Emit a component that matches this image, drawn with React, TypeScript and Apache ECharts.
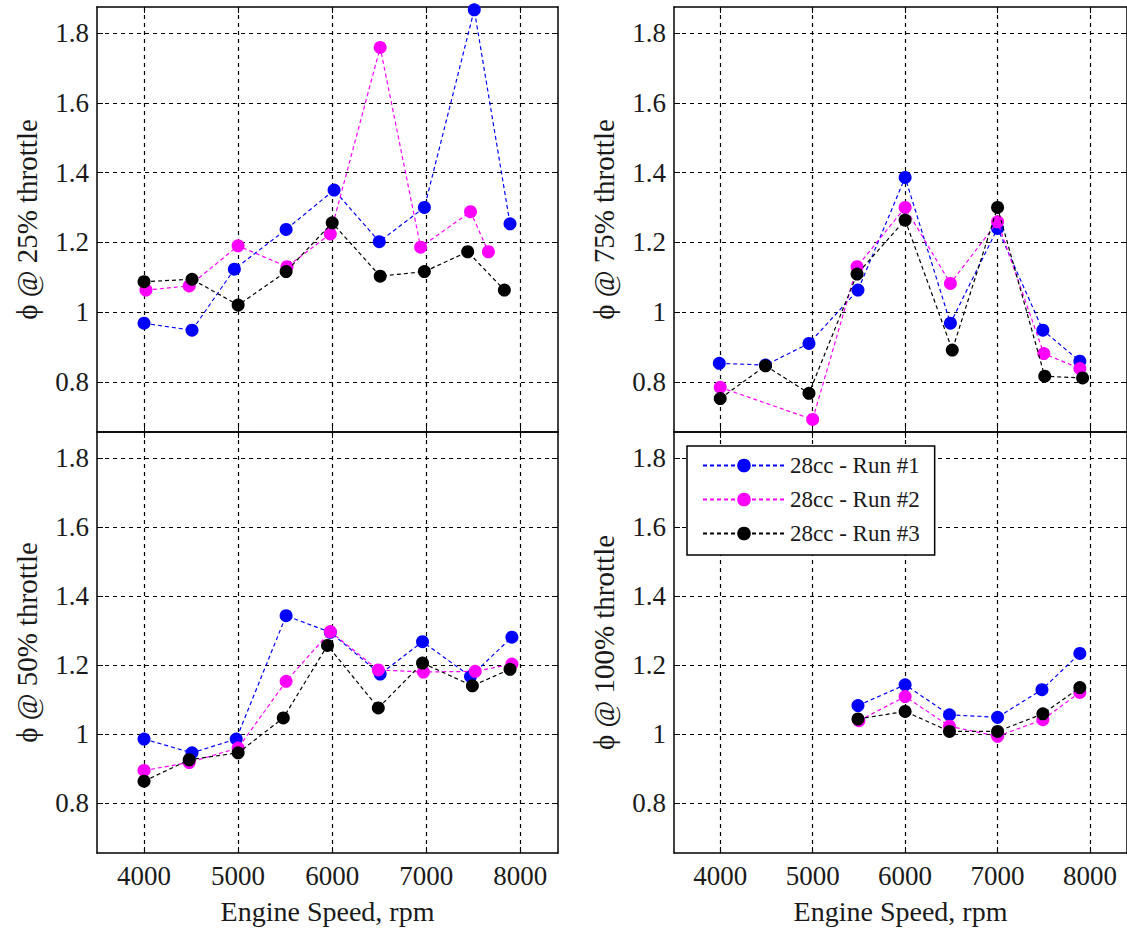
import React, { useEffect, useRef } from "react";
import * as echarts from "echarts";

// ---------- data ----------
const seriesNames = ["28cc - Run #1", "28cc - Run #2", "28cc - Run #3"];
const seriesColors = ["#0000ff", "#ff00ff", "#000000"];
const panelTitles = ["\u03d5 @ 25% throttle", "\u03d5 @ 75% throttle", "\u03d5 @ 50% throttle", "\u03d5 @ 100% throttle"];
const xTicks = [4000, 5000, 6000, 7000, 8000];
const yTicks = [0.8, 1, 1.2, 1.4, 1.6, 1.8];
const xTitle = "Engine Speed, rpm";

// 25% throttle
const rpm25Run1 = [4000, 4510, 4960, 5510, 6020, 6500, 6980, 7510, 7890];
const phi25Run1 = [0.968, 0.948, 1.123, 1.237, 1.35, 1.202, 1.3, 1.867, 1.253];
const rpm25Run2 = [4020, 4480, 5000, 5520, 5980, 6510, 6940, 7470, 7660];
const phi25Run2 = [1.063, 1.075, 1.19, 1.13, 1.224, 1.759, 1.186, 1.288, 1.173];
const rpm25Run3 = [4000, 4510, 5000, 5510, 6000, 6510, 6980, 7440, 7830];
const phi25Run3 = [1.087, 1.094, 1.02, 1.116, 1.256, 1.103, 1.116, 1.173, 1.063];

// 75% throttle
const rpm75Run1 = [3990, 4490, 4960, 5490, 6000, 6490, 7000, 7490, 7890];
const phi75Run1 = [0.853, 0.848, 0.91, 1.063, 1.386, 0.968, 1.24, 0.948, 0.859];
const rpm75Run2 = [4000, 5000, 5480, 6000, 6490, 7000, 7500, 7890];
const phi75Run2 = [0.784, 0.692, 1.13, 1.3, 1.082, 1.259, 0.881, 0.838];
const rpm75Run3 = [4000, 4490, 4960, 5480, 6000, 6510, 7000, 7510, 7920];
const phi75Run3 = [0.752, 0.846, 0.767, 1.109, 1.264, 0.891, 1.3, 0.816, 0.811];

// 50% throttle
const rpm50Run1 = [4000, 4510, 4980, 5510, 5980, 6510, 6960, 7470, 7910];
const phi50Run1 = [0.986, 0.946, 0.986, 1.343, 1.295, 1.174, 1.268, 1.167, 1.281];
const rpm50Run2 = [4000, 4480, 5000, 5510, 5980, 6490, 6970, 7520, 7910];
const phi50Run2 = [0.895, 0.918, 0.96, 1.153, 1.297, 1.186, 1.18, 1.182, 1.203];
const rpm50Run3 = [4000, 4480, 5000, 5480, 5950, 6490, 6960, 7490, 7890];
const phi50Run3 = [0.864, 0.926, 0.946, 1.047, 1.257, 1.076, 1.206, 1.14, 1.188];

// 100% throttle
const rpm100Run1 = [5490, 6000, 6480, 7000, 7480, 7890];
const phi100Run1 = [1.083, 1.143, 1.056, 1.049, 1.129, 1.234];
const rpm100Run2 = [5500, 6000, 6480, 7000, 7490, 7890];
const phi100Run2 = [1.039, 1.109, 1.023, 0.994, 1.042, 1.121];
const rpm100Run3 = [5490, 6000, 6480, 7000, 7490, 7890];
const phi100Run3 = [1.044, 1.066, 1.008, 1.008, 1.059, 1.135];

// panel order: top-left, top-right, bottom-left, bottom-right
const panelData = [
  [[rpm25Run1, phi25Run1], [rpm25Run2, phi25Run2], [rpm25Run3, phi25Run3]],
  [[rpm75Run1, phi75Run1], [rpm75Run2, phi75Run2], [rpm75Run3, phi75Run3]],
  [[rpm50Run1, phi50Run1], [rpm50Run2, phi50Run2], [rpm50Run3, phi50Run3]],
  [[rpm100Run1, phi100Run1], [rpm100Run2, phi100Run2], [rpm100Run3, phi100Run3]],
];

const FONT = "'Liberation Serif', 'DejaVu Serif', serif";
const TEXT = "#1a1a1a";

export default function App() {
  const ref = useRef<HTMLDivElement>(null);

  useEffect(() => {
    if (!ref.current) return;
    const chart = echarts.init(ref.current, undefined, { renderer: "svg" });

    const grids = [
      { left: 97, top: 7, width: 461, height: 425 },
      { left: 674, top: 7, width: 461, height: 425 },
      { left: 97, top: 432, width: 461, height: 421 },
      { left: 674, top: 432, width: 461, height: 421 },
    ].map((g) => ({ ...g, show: false, containLabel: false }));

    const xAxes: any[] = [];
    const yAxes: any[] = [];
    const gridLine = { show: true, lineStyle: { color: "#000", width: 1.2, type: [4, 4] } };
    for (let i = 0; i < 4; i++) {
      const isBottom = i >= 2;
      xAxes.push({
        type: "value",
        gridIndex: i,
        position: "bottom",
        min: 3500,
        max: 8400,
        axisLine: { show: true, onZero: false, lineStyle: { color: "#000", width: 1.5 } },
        axisTick: { show: true, inside: true, length: 6, customValues: xTicks, lineStyle: { color: "#000" } },
        axisLabel: {
          show: isBottom,
          customValues: xTicks,
          formatter: (v: number) => String(v),
          fontFamily: FONT,
          fontSize: 27,
          color: TEXT,
          margin: 9,
        },
        splitLine: gridLine,
        name: isBottom ? xTitle : "",
        nameLocation: "middle",
        nameGap: 44,
        nameTextStyle: { fontFamily: FONT, fontSize: 28, color: TEXT },
      });
      yAxes.push({
        type: "value",
        gridIndex: i,
        position: "left",
        min: 0.656,
        max: 1.875,
        axisLine: { show: true, onZero: false, lineStyle: { color: "#000", width: 1.5 } },
        axisTick: { show: true, inside: true, length: 6, customValues: yTicks, lineStyle: { color: "#000" } },
        axisLabel: {
          customValues: yTicks,
          formatter: (v: number) => String(Math.round(v * 10) / 10),
          fontFamily: FONT,
          fontSize: 27,
          color: TEXT,
          margin: 8,
        },
        splitLine: gridLine,
        name: panelTitles[i],
        nameLocation: "middle",
        nameGap: 56,
        nameRotate: 90,
        nameTextStyle: { fontFamily: FONT, fontSize: 29, color: TEXT },
      });
    }
    // frame axes (top and right) with inside ticks only
    for (let i = 0; i < 4; i++) {
      xAxes.push({
        type: "value",
        gridIndex: i,
        position: "top",
        min: 3500,
        max: 8400,
        axisLine: { show: true, onZero: false, lineStyle: { color: "#000", width: 1.5 } },
        axisTick: { show: true, inside: true, length: 6, customValues: xTicks, lineStyle: { color: "#000" } },
        axisLabel: { show: false },
        splitLine: { show: false },
      });
      yAxes.push({
        type: "value",
        gridIndex: i,
        position: "right",
        min: 0.656,
        max: 1.875,
        axisLine: { show: true, onZero: false, lineStyle: { color: "#000", width: 1.5 } },
        axisTick: { show: true, inside: true, length: 6, customValues: yTicks, lineStyle: { color: "#000" } },
        axisLabel: { show: false },
        splitLine: { show: false },
      });
    }

    const series: any[] = [];
    panelData.forEach((runs, p) => {
      runs.forEach(([xs, ys], r) => {
        series.push({
          type: "line",
          name: seriesNames[r],
          xAxisIndex: p,
          yAxisIndex: p,
          data: xs.map((x, k) => [x, ys[k]]),
          symbol: "circle",
          symbolSize: 13,
          showSymbol: true,
          z: 3 + r,
          lineStyle: { color: seriesColors[r], width: 1.2, type: [4, 3] },
          itemStyle: { color: seriesColors[r] },
          emphasis: { disabled: true },
        });
      });
    });

    chart.setOption({
      animation: false,
      backgroundColor: "#ffffff",
      grid: grids,
      xAxis: xAxes,
      yAxis: yAxes,
      legend: {
        show: true,
        orient: "vertical",
        left: 687,
        top: 446,
        data: seriesNames,
        backgroundColor: "#ffffff",
        borderColor: "#000",
        borderWidth: 1.5,
        borderRadius: 0,
        padding: [8, 15, 10, 15],
        itemWidth: 82,
        itemHeight: 17,
        itemGap: 11,
        selectedMode: false,
        textStyle: { fontFamily: FONT, fontSize: 23, color: TEXT },
        z: 10,
      },
      series,
    });

    return () => chart.dispose();
  }, []);

  return (
    <div
      ref={ref}
      style={{ position: "absolute", left: 0, top: 0, width: 1127, height: 930, background: "#fff" }}
    />
  );
}
